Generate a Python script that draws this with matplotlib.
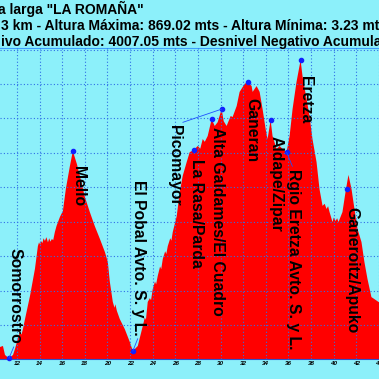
import matplotlib
matplotlib.use("Agg")
import matplotlib.pyplot as plt

# perfil de la ruta: distancia (km) y altura (m)
dist_km = [10.40, 10.50, 10.76, 10.94, 11.29, 11.65, 11.82, 12.26, 12.40, 12.53, 12.71,
           13.15, 13.59, 13.85, 13.95, 14.05, 14.12, 14.25, 14.35, 14.47, 14.60,
           14.74, 14.85, 14.95, 15.09, 15.20, 15.35, 15.50, 15.80, 16.06,
           16.32, 16.68, 16.94, 17.30, 17.56, 18.00, 18.44, 18.88, 19.33, 19.77,
           20.03, 20.21, 20.47, 20.62, 20.70, 20.83, 21.09, 21.53, 21.97, 22.24, 22.68, 23.12,
           23.30, 23.40, 23.56, 23.75, 23.85, 24.00, 24.20, 24.30, 24.44, 24.65, 24.75,
           24.89, 25.10, 25.20, 25.33, 25.55, 25.65, 25.77, 26.12, 26.39, 26.65, 27.00,
           27.27, 27.62, 27.98, 28.20, 28.42, 28.60, 28.86, 29.21, 29.48, 29.74, 30.09, 30.27,
           30.53, 30.89, 31.06, 31.42, 31.68, 32.12, 32.39, 32.74, 32.83, 33.18,
           33.45, 33.71, 33.98, 34.15, 34.42, 34.59, 34.95, 35.21, 35.48, 35.83,
           36.10, 36.36, 36.71, 37.07, 37.24, 37.60, 37.86, 38.12, 38.48, 38.74,
           39.01, 39.20, 39.36, 39.50, 39.63, 39.89, 40.00, 40.16, 40.30, 40.42, 40.77,
           41.04, 41.30, 41.57, 41.83, 42.10, 42.45, 42.71, 42.98, 43.33, 43.60, 43.95, 44.10]
alt_m = [36, 36, 39, 13, 3.2, 13, 30, 80, 72, 88, 117,
         184, 263, 329, 340, 333, 344, 338, 352, 344, 355,
         340, 352, 342, 350, 346, 370, 388, 414, 431,
         495, 562, 605, 567, 533, 472, 428, 387, 350, 312,
         283, 225, 167, 150, 160, 141, 117, 88, 51, 24, 39, 97,
         122, 115, 167, 178, 172, 204, 226, 218, 242, 270, 262,
         292, 314, 306, 329, 352, 345, 370, 416, 486, 533, 573,
         602, 608, 620, 612, 640, 632, 649, 698, 678, 689, 727, 692,
         678, 707, 704, 736, 777, 800, 806, 794, 777, 794,
         777, 727, 669, 640, 695, 649, 611, 620, 611, 602,
         649, 727, 806, 869.02, 823, 756, 707, 640, 573, 495,
         446, 452, 437, 445, 428, 399, 412, 402, 410, 399, 428,
         486, 536, 495, 437, 379, 341, 283, 234, 181, 175, 167, 165]

# puntos de paso
wp_names = ["Somorrostro", "Mello", "El Pobal Avto. S. y L.", "La Rasa/Parda",
            "Alta Galdames/El Cuadro", "Picomayor", "Ganeran", "Aldape/Zipar",
            "Rgio Eretza Avto. S. y L.", "Eretza", "Ganeroitz/Apuko"]
wp_km = [11.29, 16.94, 22.24, 27.62, 29.21, 30.09, 32.39, 34.42, 35.83, 37.07, 41.21]
wp_alt = [3.2, 605, 24, 608, 698, 727, 806, 695, 602, 869.02, 495]

title_lines = ['a larga "LA ROMAÑA"',
               '3 km - Altura Máxima: 869.02 mts - Altura Mínima: 3.23 mt',
               'ivo Acumulado: 4007.05 mts - Desnivel Negativo Acumula']

x_ticks = list(range(12, 46, 2))
y_grid = list(range(0, 901, 100))

BG = "#8cf0fa"
GRID = "#2f6fe6"

plt.rcParams["font.family"] = ["Liberation Sans", "DejaVu Sans"]

fig = plt.figure(figsize=(3.79, 3.79), dpi=100, facecolor=BG)
ax = fig.add_axes([0, 19.6 / 379, 1, 311.9 / 379])
ax.set_facecolor(BG)
ax.set_xlim(10.50, 43.95)
ax.set_ylim(0, 906)

ax.fill_between(dist_km, alt_m, 0, color="#ff0000", lw=0, zorder=1)

ax.set_xticks(x_ticks)
ax.set_xticklabels([str(t) for t in x_ticks], fontsize=4.5, fontweight="bold", fontstyle="italic")
ax.set_yticks(y_grid)
ax.set_yticklabels([])
ax.tick_params(axis="both", length=0, pad=1.5)
ax.grid(True, color=GRID, linestyle=(0, (1, 2)), lw=0.8, zorder=2)
ax.set_axisbelow(False)
for side in ["left", "right"]:
    ax.spines[side].set_visible(False)
ax.spines["top"].set_color("#3f9fff")
ax.spines["bottom"].set_color("#3050c8")

# desplazamiento de las etiquetas respecto al punto (pixeles)
offsets = {
    "Somorrostro": (6, 110, True, (0.5, 0)),
    "Mello": (6, -15, False, None),
    "El Pobal Avto. S. y L.": (6, 171, True, (0.5, 0)),
    "La Rasa/Parda": (3, -9, False, None),
    "Alta Galdames/El Cuadro": (6, -8, False, None),
    "Picomayor": (-47, -16, True, (0.5, 1)),
    "Ganeran": (4, -16, False, None),
    "Aldape/Zipar": (5, -16, False, None),
    "Rgio Eretza Avto. S. y L.": (7, -17, True, (0.5, 1)),
    "Eretza": (5, -16, False, None),
    "Ganeroitz/Apuko": (4, -18, False, None),
}

ax.plot(wp_km, wp_alt, "o", color="#1020ff", ms=3, zorder=5, clip_on=False)
for name, km, alt in zip(wp_names, wp_km, wp_alt):
    dx, dy, line, rel = offsets[name]
    kw = {}
    if line:
        kw["arrowprops"] = dict(arrowstyle="-", color="#2050ff", lw=0.6,
                                shrinkA=0, shrinkB=0, relpos=rel)
    ax.annotate(name, (km, alt), xytext=(dx, dy), textcoords="offset pixels",
                rotation=-90, ha="center", va="top", fontsize=11.3,
                fontweight="bold", color="black", zorder=6, **kw)

for txt, x0, yb in zip(title_lines, [-0.004, 0.002, 0.002], [14, 30, 46]):
    fig.text(x0, 1 - yb / 379, txt, ha="left", va="baseline",
             fontsize=10, fontweight="bold", color="black")

fig.savefig("out.png", dpi=100, facecolor=BG)
